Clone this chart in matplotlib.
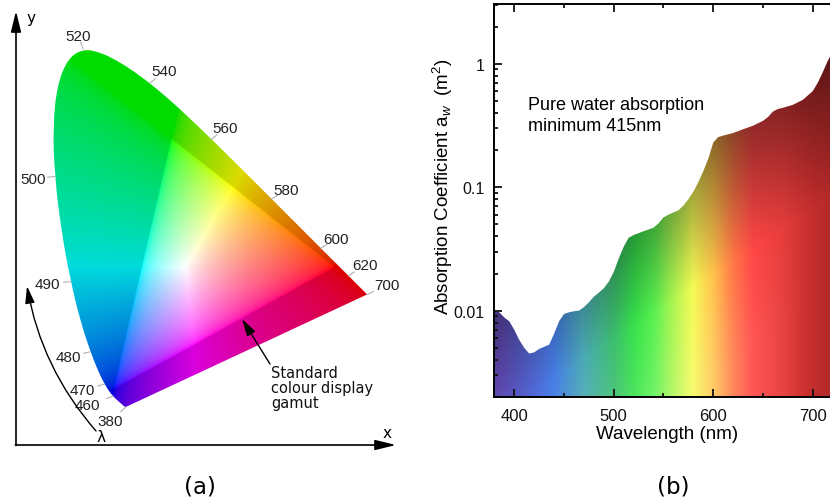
import numpy as np
import matplotlib.pyplot as plt
from matplotlib.patches import PathPatch
from matplotlib.path import Path
from matplotlib.ticker import LogLocator, FuncFormatter, MultipleLocator, NullFormatter

plt.rcParams['mathtext.fontset'] = 'custom'
plt.rcParams['mathtext.rm'] = 'Liberation Sans'
plt.rcParams['mathtext.it'] = 'Liberation Sans:italic'

W, H = 830, 502

# CIE 1931 2-degree spectral locus, chromaticity coordinates
locus_nm = [380, 385, 390, 395, 400, 405, 410, 415, 420, 425, 430, 435, 440, 445,
            450, 455, 460, 465, 470, 475, 480, 485, 490, 495, 500, 505, 510, 515,
            520, 525, 530, 535, 540, 545, 550, 555, 560, 565, 570, 575, 580, 585,
            590, 595, 600, 605, 610, 615, 620, 625, 630, 635, 640, 645, 650, 660,
            670, 680, 700]
locus_x = [0.1741, 0.1740, 0.1738, 0.1736, 0.1733, 0.1730, 0.1726, 0.1721, 0.1714,
           0.1703, 0.1689, 0.1669, 0.1644, 0.1611, 0.1566, 0.1510, 0.1440, 0.1355,
           0.1241, 0.1096, 0.0913, 0.0687, 0.0454, 0.0235, 0.0082, 0.0039, 0.0139,
           0.0389, 0.0743, 0.1142, 0.1547, 0.1929, 0.2296, 0.2658, 0.3016, 0.3373,
           0.3731, 0.4087, 0.4441, 0.4788, 0.5125, 0.5448, 0.5752, 0.6029, 0.6270,
           0.6482, 0.6658, 0.6801, 0.6915, 0.7006, 0.7079, 0.7140, 0.7190, 0.7230,
           0.7260, 0.7300, 0.7320, 0.7334, 0.7347]
locus_y = [0.0050, 0.0050, 0.0049, 0.0049, 0.0048, 0.0048, 0.0048, 0.0048, 0.0051,
           0.0058, 0.0069, 0.0086, 0.0109, 0.0138, 0.0177, 0.0227, 0.0297, 0.0399,
           0.0578, 0.0868, 0.1327, 0.2007, 0.2950, 0.4127, 0.5384, 0.6548, 0.7502,
           0.8120, 0.8338, 0.8262, 0.8059, 0.7816, 0.7543, 0.7243, 0.6923, 0.6589,
           0.6245, 0.5896, 0.5547, 0.5202, 0.4866, 0.4544, 0.4242, 0.3965, 0.3725,
           0.3514, 0.3340, 0.3197, 0.3083, 0.2993, 0.2920, 0.2859, 0.2809, 0.2770,
           0.2740, 0.2700, 0.2680, 0.2666, 0.2653]

# display gamut primaries (red, green, blue) and white point
gamut_x = [0.660, 0.280, 0.145]
gamut_y = [0.328, 0.625, 0.045]
white_xy = (0.3127, 0.3290)

# wavelength labels along the locus and their label offsets (pixels)
label_nm = [520, 540, 560, 580, 600, 620, 700, 500, 490, 480, 470, 460, 380]
label_dx = [-5, 14, 13, 15, 15, 16, 20, -22, -23, -22, -22, -26, -16]
label_dy = [13, 12, 11, 9, 9, 11, 9, -2, -2, -5, -6, -9, -14]

# pure water absorption spectrum
water_nm = [380, 385, 390, 395, 400, 405, 410, 415, 420, 425, 430, 435, 440, 445,
            450, 455, 460, 465, 470, 475, 480, 485, 490, 495, 500, 505, 510, 515,
            520, 525, 530, 535, 540, 545, 550, 555, 560, 565, 570, 575, 580, 585,
            590, 595, 600, 605, 610, 620, 630, 640, 650, 655, 660, 665, 670, 680,
            690, 700, 705, 710, 715, 720, 730]
water_abs = [0.0100, 0.0097, 0.0088, 0.0082, 0.0070, 0.0058, 0.0050, 0.0045, 0.0046,
             0.0049, 0.0051, 0.0053, 0.0065, 0.0082, 0.0094, 0.0097, 0.0099, 0.0100,
             0.0107, 0.0117, 0.0130, 0.0140, 0.0152, 0.0172, 0.0206, 0.0265, 0.0330,
             0.0390, 0.0410, 0.0425, 0.0440, 0.0455, 0.0470, 0.0510, 0.0570, 0.0600,
             0.0625, 0.0650, 0.0710, 0.0800, 0.0920, 0.1100, 0.1350, 0.1700, 0.2300,
             0.2550, 0.2620, 0.2750, 0.2950, 0.3150, 0.3450, 0.3700, 0.4100, 0.4300,
             0.4400, 0.4650, 0.5100, 0.6000, 0.7000, 0.8500, 1.0500, 1.2500, 1.8000]

# colour stops for the spectrum fill
stop_nm = [380, 410, 440, 470, 500, 520, 540, 560, 580, 600, 620, 640, 670, 700, 750]
stop_rgb = [(105, 75, 185), (85, 95, 205), (70, 125, 230), (75, 170, 180),
            (60, 190, 110), (55, 225, 75), (90, 240, 80), (170, 245, 80),
            (245, 250, 85), (255, 195, 75), (255, 120, 70), (255, 70, 70),
            (230, 60, 60), (195, 45, 45), (150, 35, 35)]


def rgb_to_xyz_matrix(px, py, white):
    P = np.array([[x / y, 1.0, (1 - x - y) / y] for x, y in zip(px, py)]).T
    wx, wy = white
    w = np.array([wx / wy, 1.0, (1 - wx - wy) / wy])
    return P * np.linalg.solve(P, w)


def smooth_locus_path(xs, ys):
    # quadratic B-spline through the locus, closed by the straight purple line
    pts = np.column_stack([xs, ys])
    mids = 0.5 * (pts[1:] + pts[:-1])
    verts = [pts[0], mids[0]]
    codes = [Path.MOVETO, Path.LINETO]
    for i in range(1, len(pts) - 1):
        verts += [pts[i], mids[i]]
        codes += [Path.CURVE3, Path.CURVE3]
    verts += [pts[-1], pts[0], pts[0]]
    codes += [Path.LINETO, Path.LINETO, Path.CLOSEPOLY]
    return Path(verts, codes)


fig = plt.figure(figsize=(W / 100, H / 100), dpi=100)

# ---------------- (a) chromaticity diagram ----------------
ox, oy, sx, sy = 51.2, 410.0, 430.0, 431.8


def pa(px, py):
    return (px - ox) / sx, (oy - py) / sy


ax_a = fig.add_axes([0, 0, 0.5, 1])
ax_a.set_xlim(pa(0, 0)[0], pa(415, 0)[0])
ax_a.set_ylim(pa(0, H)[1], pa(0, 0)[1])
ax_a.axis('off')

gx = np.linspace(0, 0.76, 700)
gy = np.linspace(0, 0.86, 700)
XX, YY = np.meshgrid(gx, gy)
YYs = np.maximum(YY, 1e-4)
xyz = np.stack([XX / YYs, np.ones_like(XX), (1 - XX - YY) / YYs], axis=-1)
M = rgb_to_xyz_matrix(gamut_x, gamut_y, white_xy)
lin = xyz @ np.linalg.inv(M).T
inside = (lin >= 0).all(axis=-1)
lin = np.clip(lin, 0, None)
lin /= lin.max(axis=-1, keepdims=True)
rgb = np.where(lin <= 0.0031308, 12.92 * lin, 1.055 * lin ** (1 / 2.4) - 0.055)
rgb[~inside] *= 0.86
rgb = np.clip(rgb, 0, 1)

im = ax_a.imshow(rgb, extent=(0, 0.76, 0, 0.86), origin='lower', aspect='auto',
                 interpolation='bilinear')
locus_patch = PathPatch(smooth_locus_path(locus_x, locus_y), facecolor='none',
                        edgecolor='none', transform=ax_a.transData)
ax_a.add_patch(locus_patch)
im.set_clip_path(locus_patch)

for nm, dx, dy in zip(label_nm, label_dx, label_dy):
    i = locus_nm.index(nm)
    x0, y0 = locus_x[i], locus_y[i]
    d = np.hypot(dx, dy)
    tx, ty = x0 + 7 * dx / d / sx, y0 + 7 * dy / d / sy
    ax_a.plot([x0, tx], [y0, ty], color='#b0b0b0', lw=0.8)
    ax_a.annotate(str(nm), xy=(x0, y0), xytext=(dx, dy), textcoords='offset pixels',
                  ha='center', va='center', fontsize=11, family='Liberation Sans',
                  color='#222222')

# axis arrows
axis_arrow = dict(arrowstyle='-|>,head_length=0.9,head_width=0.22', lw=1.2,
                  color='black', shrinkA=0, shrinkB=0, mutation_scale=14)
ax_a.annotate('', xy=pa(16, 12), xytext=pa(16, 446.5), arrowprops=axis_arrow)
ax_a.annotate('', xy=pa(396, 446), xytext=pa(15.4, 446), arrowprops=axis_arrow)
ax_a.text(*pa(31, 18), 'y', fontsize=11, ha='center', va='center')
ax_a.text(*pa(387, 434), 'x', fontsize=11, ha='center', va='center')

# wavelength direction
ax_a.annotate('', xy=pa(27, 287), xytext=pa(96, 432),
              arrowprops=dict(arrowstyle='-|>,head_length=0.8,head_width=0.22',
                              connectionstyle='arc3,rad=-0.14', lw=1.0,
                              color='black', shrinkA=0, shrinkB=0,
                              mutation_scale=13))
ax_a.text(*pa(101, 438), 'λ', fontsize=11, ha='center', va='center')

# gamut annotation
ax_a.annotate('', xy=pa(242, 320), xytext=pa(270, 365),
              arrowprops=dict(arrowstyle='-|>,head_length=0.8,head_width=0.22',
                              lw=1.0, color='black', shrinkA=0, shrinkB=0,
                              mutation_scale=13))
ax_a.text(*pa(271, 366), 'Standard\ncolour display\ngamut', fontsize=10.5,
          ha='left', va='top', linespacing=1.0, color='#111111')

fig.text(200 / W, 1 - 487 / H, '(a)', fontsize=16.5, ha='center', va='center')

# ---------------- (b) water absorption ----------------
x_lo, x_hi = 380, 750
y_lo, y_hi = 0.002, 3.05
ax_b = fig.add_axes([494.4 / W, 1 - 398 / H, (x_hi - x_lo) * 0.9947 / W, 393 / H])
ax_b.set_yscale('log')
ax_b.set_xlim(x_lo, x_hi)
ax_b.set_ylim(y_lo, y_hi)

lam = np.linspace(x_lo, x_hi, 371)
logy = np.linspace(np.log10(y_lo), np.log10(y_hi), 301)
lam_c = 0.5 * (lam[1:] + lam[:-1])
logy_c = 0.5 * (logy[1:] + logy[:-1])
stops = np.array(stop_rgb) / 255.0
base = np.stack([np.interp(lam_c, stop_nm, stops[:, k]) for k in range(3)], axis=-1)
LL, YL = np.meshgrid(lam_c, logy_c)
diff = YL - (-2.5 + (LL - 450) / 190)
dark = 1 - 0.55 * np.clip(diff / 1.3, 0, 1)
light = 0.15 * np.clip(-diff / 0.8, 0, 1) * np.clip((690 - LL) / 90, 0, 1)
fill_rgb = base[None, :, :] * dark[..., None]
fill_rgb = fill_rgb + (1 - fill_rgb) * light[..., None]
ax_b.pcolormesh(lam, 10 ** logy, np.clip(fill_rgb, 0, 1), shading='flat',
                zorder=0, rasterized=True)
ax_b.fill_between(water_nm, water_abs, 100, color='white', lw=0, zorder=1)

ax_b.xaxis.set_major_locator(MultipleLocator(100))
ax_b.xaxis.set_minor_locator(MultipleLocator(50))
ax_b.yaxis.set_major_locator(LogLocator(base=10, numticks=10))
ax_b.yaxis.set_minor_locator(LogLocator(base=10, subs=np.arange(2, 10), numticks=20))
ax_b.yaxis.set_major_formatter(FuncFormatter(lambda v, _: f'{v:g}'))
ax_b.yaxis.set_minor_formatter(NullFormatter())
ax_b.tick_params(which='both', direction='in', top=True, right=False, width=1.3,
                 colors='#111111')
ax_b.tick_params(which='major', length=6)
ax_b.tick_params(which='minor', length=3)
ax_b.tick_params(axis='x', which='major', labelsize=12, pad=8)
ax_b.tick_params(axis='y', which='major', labelsize=11.5, pad=7)
for lbl in ax_b.get_xticklabels() + ax_b.get_yticklabels():
    lbl.set_family('Liberation Sans')
for side in ('left', 'bottom', 'top'):
    ax_b.spines[side].set_linewidth(1.4)
    ax_b.spines[side].set_zorder(3)
ax_b.spines['right'].set_visible(False)

ax_b.set_xlabel('Wavelength (nm)', fontsize=13.5, family='Liberation Sans', va='center')
ax_b.xaxis.set_label_coords((667 - 494.4) / ((x_hi - x_lo) * 0.9947), (398 - 435) / 393)
ax_b.set_ylabel('Absorption Coefficient a$_{w}$  (m$^{2}$)', fontsize=13.5,
                family='Liberation Sans', va='center')
ax_b.yaxis.set_label_coords((443 - 494.4) / ((x_hi - x_lo) * 0.9947), (398 - 187) / 393)

fig.text(528 / W, 1 - 110 / H, 'Pure water absorption', fontsize=13,
         family='Liberation Sans', ha='left', va='baseline')
fig.text(528 / W, 1 - 131 / H, 'minimum 415nm', fontsize=13,
         family='Liberation Sans', ha='left', va='baseline')

fig.text(673 / W, 1 - 487 / H, '(b)', fontsize=16.5, ha='center', va='center')

fig.savefig('out.png', dpi=100)
